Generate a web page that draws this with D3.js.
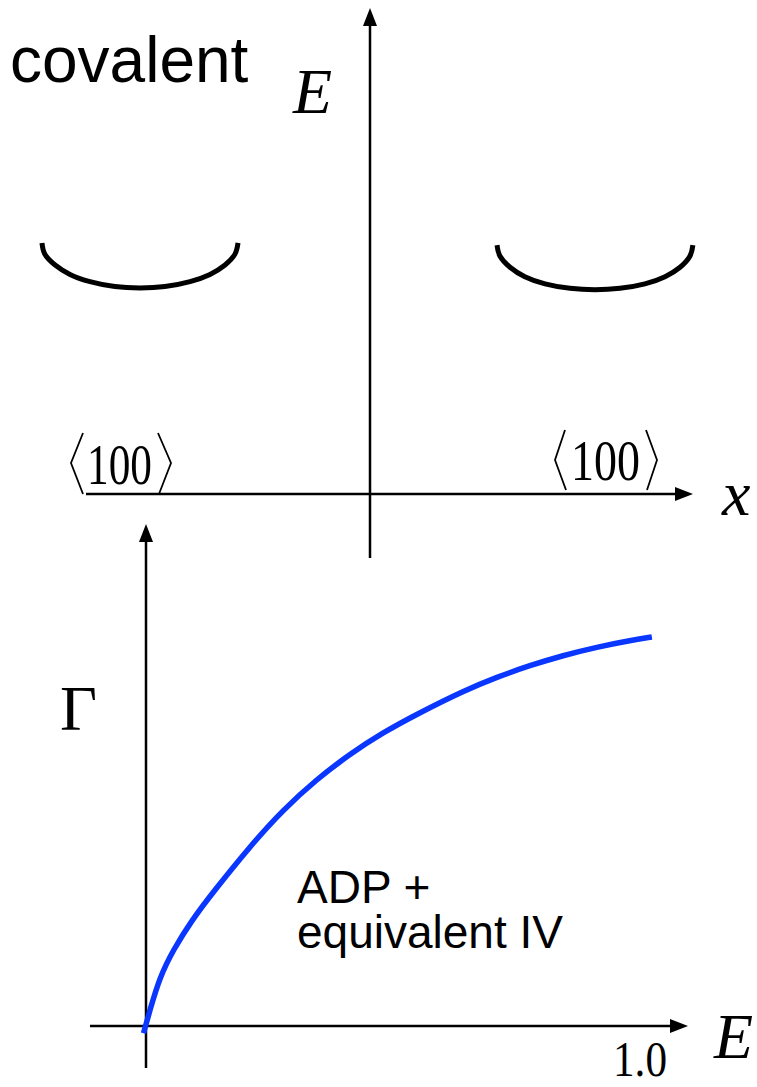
<!DOCTYPE html>
<html>
<head>
<meta charset="utf-8">
<script src="https://cdn.jsdelivr.net/npm/d3@7"></script>
<style>
  html, body { margin: 0; padding: 0; background: #fff; }
  svg { display: block; }
</style>
</head>
<body>
<svg id="chart" width="757" height="1087"></svg>
<script>
// ---- Upper panel: conduction-band valleys along <100> (schematic E vs x) ----
const valleyLeftK  = [-1.025, -1.016, -0.984, -0.9375, -0.875, -0.797, -0.719, -0.641, -0.5625, -0.5, -0.453, -0.422, -0.4125];
const valleyLeftE  = [0.558, 0.533, 0.509, 0.488, 0.472, 0.461, 0.458, 0.461, 0.472, 0.488, 0.509, 0.533, 0.558];
const valleyRightK = [0.397, 0.406, 0.4375, 0.484, 0.547, 0.625, 0.703, 0.781, 0.859, 0.922, 0.969, 1.0, 1.009];
const valleyRightE = [0.553, 0.529, 0.504, 0.483, 0.467, 0.457, 0.454, 0.457, 0.467, 0.483, 0.504, 0.529, 0.553];

// ---- Lower panel: scattering rate Gamma vs energy E (ADP + equivalent IV) ----
const rateE     = [-0.005, 0.008, 0.028, 0.055, 0.093, 0.136, 0.211, 0.277, 0.346, 0.413, 0.48, 0.549, 0.642, 0.711, 0.777, 0.844, 0.913, 0.98, 1.024];
const rateGamma = [-0.018, 0.04, 0.1225, 0.19, 0.265, 0.335, 0.45, 0.54, 0.6175, 0.68, 0.7338, 0.78, 0.8375, 0.8725, 0.9013, 0.9263, 0.9475, 0.9638, 0.9725];
const energyTicks = [1.0];

const svg = d3.select("#chart");
const serif = "'Liberation Serif', 'Times New Roman', serif";
const sans = "'Liberation Sans', Arial, sans-serif";

// scales
const kScale = d3.scaleLinear().domain([-1, 1]).range([50, 690]);
const eScale = d3.scaleLinear().domain([0, 1]).range([494, 44]);
const xE = d3.scaleLinear().domain([0, 1]).range([146, 640]);
const yG = d3.scaleLinear().domain([0, 1]).range([1026, 626]);

// filled arrowhead with its tip at (x, y), pointing in direction dir
function arrowHead(g, x, y, dir) {
  const L = 18, W = 7;
  let pts;
  if (dir === "up") pts = [[x, y], [x - W, y + L], [x + W, y + L]];
  else pts = [[x, y], [x - L, y - W], [x - L, y + W]];
  g.append("path")
    .attr("d", "M" + pts.map(p => p.join(",")).join("L") + "Z")
    .attr("fill", "#000");
}

function axisLine(g, x1, y1, x2, y2) {
  g.append("line")
    .attr("x1", x1).attr("y1", y1).attr("x2", x2).attr("y2", y2)
    .attr("stroke", "#000").attr("stroke-width", 2.5);
}

// ---------- upper panel ----------
const upper = svg.append("g");
const x0 = kScale(0);
axisLine(upper, x0, 558, x0, 22);
arrowHead(upper, x0, 8, "up");
axisLine(upper, 86, eScale(0), 680, eScale(0));
arrowHead(upper, 693, eScale(0), "right");

const valleyLine = d3.line()
  .x(d => kScale(d[0]))
  .y(d => eScale(d[1]))
  .curve(d3.curveNatural);

[[valleyLeftK, valleyLeftE], [valleyRightK, valleyRightE]].forEach(([ks, es]) => {
  upper.append("path")
    .datum(d3.zip(ks, es))
    .attr("d", valleyLine)
    .attr("fill", "none")
    .attr("stroke", "#000")
    .attr("stroke-width", 5)
    .attr("stroke-linecap", "butt");
});

upper.append("text").text("covalent")
  .attr("x", 10).attr("y", 82)
  .attr("font-family", sans).attr("font-size", 64).attr("fill", "#000");

upper.append("text").text("E")
  .attr("x", 293).attr("y", 113)
  .attr("font-family", serif).attr("font-style", "italic")
  .attr("font-size", 64).attr("fill", "#000");

upper.append("text").text("x")
  .attr("x", 722).attr("y", 515)
  .attr("font-family", serif).attr("font-style", "italic")
  .attr("font-size", 64).attr("fill", "#000");

// direction labels <100> with tall angle delimiters
function dirLabel(g, lb, txt, rb) {
  const delim = pts => g.append("path")
    .attr("d", "M" + pts.map(p => p.join(",")).join("L"))
    .attr("fill", "none").attr("stroke", "#000").attr("stroke-width", 1.8);
  delim(lb);
  delim(rb);
  g.append("text").text("100")
    .attr("x", txt.x).attr("y", txt.y)
    .attr("textLength", txt.w).attr("lengthAdjust", "spacingAndGlyphs")
    .attr("font-family", serif).attr("font-size", 57).attr("fill", "#000");
}
dirLabel(upper, [[83, 433], [71, 463], [83, 494]], {x: 87, y: 484, w: 65}, [[158, 433], [171, 463], [159, 494]]);
dirLabel(upper, [[565, 430], [555, 460], [566, 490]], {x: 571, y: 480, w: 69}, [[646, 430], [657, 460], [647, 490]]);

// ---------- lower panel ----------
const lower = svg.append("g");
axisLine(lower, xE(0), 1068, xE(0), 538);
arrowHead(lower, xE(0), 524, "up");
axisLine(lower, 90, yG(0), 675, yG(0));
arrowHead(lower, 688, yG(0), "right");

const rateLine = d3.line()
  .x(d => xE(d[0]))
  .y(d => yG(d[1]))
  .curve(d3.curveBasis);

lower.append("path")
  .datum(d3.zip(rateE, rateGamma))
  .attr("d", rateLine)
  .attr("fill", "none")
  .attr("stroke", "#0a37ff")
  .attr("stroke-width", 5.5)
  .attr("stroke-linecap", "butt");

lower.selectAll("text.tick").data(energyTicks).enter().append("text")
  .attr("class", "tick")
  .text(d => d.toFixed(1))
  .attr("x", d => xE(d)).attr("y", 1076)
  .attr("text-anchor", "middle")
  .attr("textLength", 54).attr("lengthAdjust", "spacingAndGlyphs")
  .attr("font-family", serif).attr("font-size", 50).attr("fill", "#000");

lower.append("text").text("E")
  .attr("x", 714).attr("y", 1058)
  .attr("font-family", serif).attr("font-style", "italic")
  .attr("font-size", 64).attr("fill", "#000");

lower.append("text").text("Γ")
  .attr("x", 60).attr("y", 730)
  .attr("font-family", serif)
  .attr("font-size", 64).attr("fill", "#000");

const note = lower.append("g")
  .attr("font-family", sans).attr("font-size", 46).attr("fill", "#000");
note.append("text").text("ADP +").attr("x", 297).attr("y", 903);
note.append("text").text("equivalent IV").attr("x", 297).attr("y", 948);
</script>
</body>
</html>
